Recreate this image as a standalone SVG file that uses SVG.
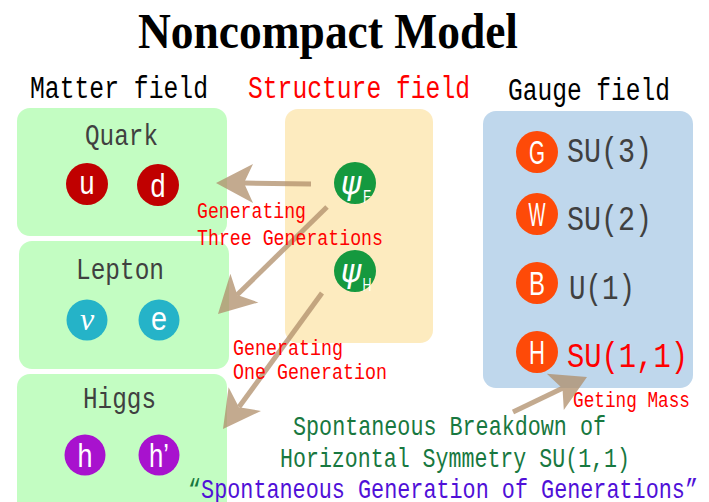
<svg xmlns="http://www.w3.org/2000/svg" width="709" height="502" viewBox="0 0 709 502">
<style>
.mono{font-family:"Liberation Mono","DejaVu Sans Mono",monospace}
.hdr{font-size:31px;fill:#000}
.lbl{font-size:29px;fill:#404040}
.cap{font-size:22px;fill:#ff0000}
.gl{font-size:35px;fill:#404040}
.bot{font-size:28px}
.pl{font-family:"Liberation Sans",Arial,sans-serif;fill:#fff;text-anchor:middle}
.box-g{fill:#c3fdc2}
.arrow line{stroke:#b08e6a;stroke-width:5}
.arrow polygon{fill:#b08e6a}
.arrow{opacity:0.75}
.red{fill:#ff0000}
</style>

<text x="138" y="48" font-family="Liberation Serif,serif" font-weight="bold" font-size="50" textLength="380" lengthAdjust="spacingAndGlyphs">Noncompact Model</text>

<g id="headers" class="mono">
<text class="hdr" x="30" y="98" textLength="178" lengthAdjust="spacingAndGlyphs">Matter field</text>
<text class="hdr red" x="248" y="98" textLength="222" lengthAdjust="spacingAndGlyphs">Structure field</text>
<text class="hdr" x="508" y="100" textLength="162" lengthAdjust="spacingAndGlyphs">Gauge field</text>
</g>

<g id="boxes">
<rect id="quark-box" class="box-g" x="17" y="108" width="210" height="128" rx="13"/>
<rect id="lepton-box" class="box-g" x="19" y="241" width="210" height="128" rx="13"/>
<rect id="higgs-box" class="box-g" x="17" y="374" width="210" height="140" rx="13"/>
<rect id="structure-box" fill="#fdebbf" x="285" y="109" width="148" height="234" rx="13"/>
<rect id="gauge-box" fill="#bfd7ec" x="483" y="111" width="210" height="277" rx="13"/>
</g>

<g id="connectors">
<g class="arrow">
<line x1="311" y1="184" x2="244" y2="183"/>
<polygon points="216,183 253,164 244,183 253,203"/>
</g>
<g class="arrow">
<line x1="327" y1="207" x2="237" y2="295"/>
<polygon points="218,314 230.4,273.8 237.3,295.1 258.4,302.4"/>
</g>
<g class="arrow">
<line x1="322" y1="293" x2="239" y2="407"/>
<polygon points="223,429 228.6,387.3 238.9,407.2 261,410.9"/>
</g>
<g class="arrow">
<line x1="513" y1="412" x2="563" y2="388"/>
<polygon points="587,377 546.8,373.8 562.5,388.5 563.8,410"/>
</g>
</g>

<g id="quark" class="mono">
<text class="lbl" x="85" y="145" textLength="73" lengthAdjust="spacingAndGlyphs">Quark</text>
<g id="u"><circle cx="87" cy="184" r="21" fill="#c00000"/><text class="pl" x="87" y="194" font-size="33" textLength="15" lengthAdjust="spacingAndGlyphs">u</text></g>
<g id="d"><circle cx="158" cy="185" r="21" fill="#c00000"/><text class="pl" x="158" y="197" font-size="33" textLength="15" lengthAdjust="spacingAndGlyphs">d</text></g>
</g>

<g id="lepton" class="mono">
<text class="lbl" x="76" y="279" textLength="88" lengthAdjust="spacingAndGlyphs">Lepton</text>
<g id="nu"><circle cx="87" cy="320" r="20.5" fill="#25b3c8"/><text x="87" y="330" font-family="Liberation Serif,serif" font-style="italic" font-size="32" fill="#fff" text-anchor="middle">ν</text></g>
<g id="e"><circle cx="159" cy="320" r="20.5" fill="#25b3c8"/><text class="pl" x="159" y="330" font-size="33" textLength="16" lengthAdjust="spacingAndGlyphs">e</text></g>
</g>

<g id="higgs" class="mono">
<text class="lbl" x="83" y="408" textLength="73" lengthAdjust="spacingAndGlyphs">Higgs</text>
<g id="h"><circle cx="85" cy="455" r="20.5" fill="#a812ce"/><text class="pl" x="85" y="467" font-size="33" textLength="15" lengthAdjust="spacingAndGlyphs">h</text></g>
<g id="hprime"><circle cx="159" cy="455" r="20.5" fill="#a812ce"/><text class="pl" x="159" y="467" font-size="33" textLength="20" lengthAdjust="spacingAndGlyphs">h’</text></g>
</g>

<g id="structure">
<g id="psiF"><circle cx="355" cy="183" r="21" fill="#15993f"/>
<text x="351" y="194" font-family="DejaVu Sans,sans-serif" font-style="italic" font-size="31" fill="#fff" text-anchor="middle">ψ</text>
<text x="367" y="203" font-family="Liberation Sans,sans-serif" font-size="19" fill="#fff" text-anchor="middle" textLength="8" lengthAdjust="spacingAndGlyphs">F</text></g>
<g id="psiH"><circle cx="355" cy="271" r="21" fill="#15993f"/>
<text x="351" y="282" font-family="DejaVu Sans,sans-serif" font-style="italic" font-size="31" fill="#fff" text-anchor="middle">ψ</text>
<text x="367" y="291" font-family="Liberation Sans,sans-serif" font-size="19" fill="#fff" text-anchor="middle" textLength="9" lengthAdjust="spacingAndGlyphs">H</text></g>
</g>

<g id="gauge" class="mono">
<g id="G"><circle cx="537" cy="152" r="21" fill="#fe4a08"/><text class="pl" x="537" y="164" font-size="33" textLength="16" lengthAdjust="spacingAndGlyphs">G</text></g>
<text class="gl" x="567" y="162" textLength="85" lengthAdjust="spacingAndGlyphs">SU(3)</text>
<g id="W"><circle cx="537" cy="214" r="21" fill="#fe4a08"/><text class="pl" x="537" y="226" font-size="33" textLength="17" lengthAdjust="spacingAndGlyphs">W</text></g>
<text class="gl" x="567" y="230" textLength="85" lengthAdjust="spacingAndGlyphs">SU(2)</text>
<g id="B"><circle cx="537" cy="283" r="21" fill="#fe4a08"/><text class="pl" x="537" y="295" font-size="33" textLength="16" lengthAdjust="spacingAndGlyphs">B</text></g>
<text class="gl" x="569" y="299" textLength="66" lengthAdjust="spacingAndGlyphs">U(1)</text>
<g id="H"><circle cx="537" cy="352" r="21" fill="#fe4a08"/><text class="pl" x="537" y="364" font-size="33" textLength="16" lengthAdjust="spacingAndGlyphs">H</text></g>
<text class="gl red" x="567" y="367" textLength="121" lengthAdjust="spacingAndGlyphs">SU(1,1)</text>
</g>

<g id="labels" class="mono">
<text class="cap" x="197" y="218" textLength="109" lengthAdjust="spacingAndGlyphs">Generating</text>
<text class="cap" x="197" y="245" textLength="186" lengthAdjust="spacingAndGlyphs">Three Generations</text>
<text class="cap" x="233" y="355" textLength="110" lengthAdjust="spacingAndGlyphs">Generating</text>
<text class="cap" x="233" y="379" textLength="154" lengthAdjust="spacingAndGlyphs">One Generation</text>
<text class="cap" x="573" y="407" font-size="21" textLength="117" lengthAdjust="spacingAndGlyphs">Geting Mass</text>
<text class="bot" x="293" y="435" fill="#187840" textLength="313" lengthAdjust="spacingAndGlyphs">Spontaneous Breakdown of</text>
<text class="bot" x="280" y="467" fill="#187840" textLength="350" lengthAdjust="spacingAndGlyphs">Horizontal Symmetry SU(1,1)</text>
<text class="bot" x="188" y="498" fill="#5010d8" textLength="510" lengthAdjust="spacingAndGlyphs"><tspan fill="#187840">“</tspan>Spontaneous Generation of Generations”</text>
</g>
</svg>
